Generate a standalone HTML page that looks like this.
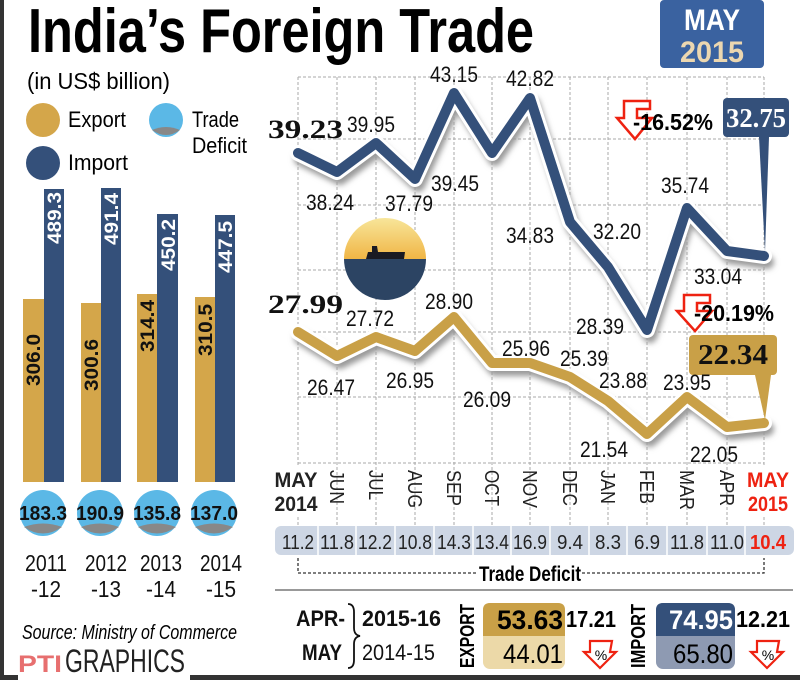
<!DOCTYPE html>
<html><head><meta charset="utf-8"><style>
html,body{margin:0;padding:0;background:#fff;}
svg{display:block;font-family:"Liberation Sans",sans-serif;}
</style></head><body>
<svg width="800" height="680" viewBox="0 0 800 680" xmlns="http://www.w3.org/2000/svg">
<defs>
<filter id="blur" x="-10%" y="-10%" width="120%" height="130%"><feGaussianBlur stdDeviation="3"/></filter>
<linearGradient id="sky" x1="0" y1="0" x2="0" y2="1"><stop offset="0" stop-color="#f8e9a0"/><stop offset="1" stop-color="#f0b443"/></linearGradient>
<clipPath id="shipc"><circle cx="385" cy="259" r="41"/></clipPath>
</defs>
<rect width="800" height="680" fill="#fff"/>
<rect x="0" y="0" width="4" height="680" fill="#333"/>
<rect x="0" y="675" width="18" height="5" fill="#333"/>
<rect x="190" y="675" width="610" height="5" fill="#333"/>

<!-- Title -->
<text x="28" y="52" font-size="62" font-weight="bold" textLength="506" lengthAdjust="spacingAndGlyphs">India’s Foreign Trade</text>
<rect x="660" y="0" width="104" height="68" rx="4" fill="#3a62a0"/>
<text x="712" y="30" font-size="30" font-weight="bold" fill="#fff" text-anchor="middle" textLength="56" lengthAdjust="spacingAndGlyphs">MAY</text>
<text x="712" y="62" font-size="30" font-weight="bold" fill="#ecd7b0" text-anchor="middle" textLength="64" lengthAdjust="spacingAndGlyphs">2015</text>

<!-- left legend -->
<text x="27" y="89" font-size="23" textLength="143" lengthAdjust="spacingAndGlyphs">(in US$ billion)</text>
<circle cx="43" cy="120" r="17" fill="#d4a64a"/>
<text x="68" y="127" font-size="22" textLength="58" lengthAdjust="spacingAndGlyphs">Export</text>
<circle cx="43" cy="163" r="17" fill="#34507a"/>
<text x="68" y="170" font-size="22" textLength="60" lengthAdjust="spacingAndGlyphs">Import</text>
<circle cx="166" cy="120" r="17" fill="#5bb8e6"/>
<path d="M152,130 Q166,124 180,130 Q166,140 152,130Z" fill="#888"/>
<text x="192" y="127" font-size="22" textLength="47" lengthAdjust="spacingAndGlyphs">Trade</text>
<text x="192" y="153" font-size="22" textLength="55" lengthAdjust="spacingAndGlyphs">Deficit</text>

<!-- bars -->
<g>
<rect x="23" y="299" width="21" height="183" fill="#d4a64a"/><rect x="44" y="189" width="20" height="293" fill="#34507a"/>
<rect x="81" y="303" width="20" height="179" fill="#d4a64a"/><rect x="101" y="188" width="20" height="294" fill="#34507a"/>
<rect x="137" y="294" width="20" height="188" fill="#d4a64a"/><rect x="157" y="214" width="21" height="268" fill="#34507a"/>
<rect x="195" y="297" width="20" height="185" fill="#d4a64a"/><rect x="215" y="215" width="20" height="267" fill="#34507a"/>
</g>
<g font-size="19" font-weight="bold">
<text transform="translate(40,360) rotate(-90)" text-anchor="middle" textLength="52" lengthAdjust="spacingAndGlyphs" fill="#111">306.0</text>
<text transform="translate(98,365) rotate(-90)" text-anchor="middle" textLength="52" lengthAdjust="spacingAndGlyphs" fill="#111">300.6</text>
<text transform="translate(154,326) rotate(-90)" text-anchor="middle" textLength="52" lengthAdjust="spacingAndGlyphs" fill="#111">314.4</text>
<text transform="translate(212,330) rotate(-90)" text-anchor="middle" textLength="52" lengthAdjust="spacingAndGlyphs" fill="#111">310.5</text>
<text transform="translate(61,218) rotate(-90)" text-anchor="middle" textLength="52" lengthAdjust="spacingAndGlyphs" fill="#fff">489.3</text>
<text transform="translate(118,219) rotate(-90)" text-anchor="middle" textLength="52" lengthAdjust="spacingAndGlyphs" fill="#fff">491.4</text>
<text transform="translate(175,245) rotate(-90)" text-anchor="middle" textLength="52" lengthAdjust="spacingAndGlyphs" fill="#fff">450.2</text>
<text transform="translate(232,247) rotate(-90)" text-anchor="middle" textLength="52" lengthAdjust="spacingAndGlyphs" fill="#fff">447.5</text>
</g>
<g>
<circle cx="43" cy="513" r="23" fill="#5bb8e6"/><circle cx="100" cy="513" r="23" fill="#5bb8e6"/>
<circle cx="157" cy="513" r="23" fill="#5bb8e6"/><circle cx="214" cy="513" r="23" fill="#5bb8e6"/>
<path d="M24,527 Q43,520 62,527 Q43,540 24,527Z" fill="#888"/><path d="M81,527 Q100,520 119,527 Q100,540 81,527Z" fill="#888"/>
<path d="M138,527 Q157,520 176,527 Q157,540 138,527Z" fill="#888"/><path d="M195,527 Q214,520 233,527 Q214,540 195,527Z" fill="#888"/>
</g>
<g font-size="20" font-weight="bold" text-anchor="middle" fill="#111">
<text x="43" y="520" textLength="48" lengthAdjust="spacingAndGlyphs">183.3</text>
<text x="100" y="520" textLength="48" lengthAdjust="spacingAndGlyphs">190.9</text>
<text x="157" y="520" textLength="48" lengthAdjust="spacingAndGlyphs">135.8</text>
<text x="214" y="520" textLength="48" lengthAdjust="spacingAndGlyphs">137.0</text>
</g>
<g font-size="23" text-anchor="middle" fill="#111">
<text x="46" y="571" textLength="42" lengthAdjust="spacingAndGlyphs">2011</text><text x="46" y="597" textLength="30" lengthAdjust="spacingAndGlyphs">-12</text>
<text x="106" y="571" textLength="42" lengthAdjust="spacingAndGlyphs">2012</text><text x="106" y="597" textLength="30" lengthAdjust="spacingAndGlyphs">-13</text>
<text x="161" y="571" textLength="42" lengthAdjust="spacingAndGlyphs">2013</text><text x="161" y="597" textLength="30" lengthAdjust="spacingAndGlyphs">-14</text>
<text x="221" y="571" textLength="42" lengthAdjust="spacingAndGlyphs">2014</text><text x="221" y="597" textLength="30" lengthAdjust="spacingAndGlyphs">-15</text>
</g>
<text x="22" y="639" font-size="20" font-style="italic" textLength="215" lengthAdjust="spacingAndGlyphs">Source: Ministry of Commerce</text>
<text x="18" y="672" font-size="24" font-weight="bold" fill="#d33" textLength="44" lengthAdjust="spacingAndGlyphs" opacity="0.7">PTI</text>
<text x="65" y="672" font-size="32" fill="#222" textLength="120" lengthAdjust="spacingAndGlyphs">GRAPHICS</text>

<!-- grid -->
<g stroke="#aaa" stroke-width="1" stroke-dasharray="3,2" fill="none">
<path d="M298,77H764M298,139H764M298,205H764M298,270H764M298,332H764M298,397H764M298,463H764"/>
<path d="M298,77V525M337,77V525M376,77V525M415,77V525M454,77V525M492,77V525M530,77V525M570,77V525M608,77V525M647,77V525M687,77V525M727,77V525M764,77V525"/>
</g>

<!-- ship -->
<g clip-path="url(#shipc)">
<rect x="340" y="215" width="90" height="45" fill="url(#sky)"/>
<rect x="340" y="259" width="90" height="45" fill="#2c4463"/>
<path d="M366,259 L368,252 L372,252 L372,246 L377,246 L378,252 L405,252 L404,259Z" fill="#1a1a22"/>
</g>

<!-- lines -->
<g fill="none" stroke-linejoin="round" stroke-linecap="round">
<polyline points="301,159 340,178 379,149 418,185 457,99 495,159 533,104 573,228 611,273 650,336 690,214 730,257 767,262" stroke="#999" stroke-width="14" filter="url(#blur)"/>
<polyline points="298,153 337,172 376,143 415,179 454,93 492,153 530,98 570,222 608,267 647,330 687,208 727,251 764,256" stroke="#fff" stroke-width="16"/>
<polyline points="298,153 337,172 376,143 415,179 454,93 492,153 530,98 570,222 608,267 647,330 687,208 727,251 764,256" stroke="#34507a" stroke-width="10"/>
<polyline points="301,338 340,362 379,343 418,357 457,323 495,369 533,369 573,383 611,407 650,440 690,403 730,433 767,429" stroke="#999" stroke-width="14" filter="url(#blur)"/>
<polyline points="298,332 337,356 376,337 415,351 454,317 492,363 530,363 570,377 608,401 647,434 687,397 727,427 764,423" stroke="#fff" stroke-width="16"/>
<polyline points="298,332 337,356 376,337 415,351 454,317 492,363 530,363 570,377 608,401 647,434 687,397 727,427 764,423" stroke="#c9a047" stroke-width="10"/>
</g>

<!-- callout boxes -->
<path d="M759,137 L769,137 L765,252 Z" fill="#34507a"/>
<rect x="723" y="98" width="66" height="39" rx="4" fill="#34507a"/>
<text x="756" y="127" font-family="Liberation Serif,serif" font-size="27" font-weight="bold" fill="#fff" text-anchor="middle" textLength="60" lengthAdjust="spacingAndGlyphs">32.75</text>
<path d="M755,375 L771,375 L765,420 Z" fill="#c9a047"/>
<rect x="689" y="335" width="88" height="40" rx="4" fill="#c9a047"/>
<text x="733" y="364" font-family="Liberation Serif,serif" font-size="28" font-weight="bold" fill="#111" text-anchor="middle" textLength="70" lengthAdjust="spacingAndGlyphs">22.34</text>

<!-- red arrows -->
<path d="M650,101 H624 V118 H617 L635,139 L652,118 H637 V109 H650 Z" fill="#fff" stroke="#e21" stroke-width="2.5"/>
<text x="633" y="130" font-size="23" font-weight="bold" textLength="80" lengthAdjust="spacingAndGlyphs">-16.52%</text>
<path d="M710,295 H684 V311 H677 L695,331 L712,311 H697 V303 H710 Z" fill="#fff" stroke="#e21" stroke-width="2.5"/>
<text x="694" y="321" font-size="23" font-weight="bold" textLength="80" lengthAdjust="spacingAndGlyphs">-20.19%</text>

<!-- point labels -->
<g font-family="Liberation Serif,serif" font-weight="bold" font-size="26" fill="#111">
<text x="268" y="138" textLength="75" lengthAdjust="spacingAndGlyphs">39.23</text>
<text x="268" y="313" textLength="75" lengthAdjust="spacingAndGlyphs">27.99</text>
</g>
<g font-size="22" fill="#111" text-anchor="middle">
<text x="371" y="132" textLength="48" lengthAdjust="spacingAndGlyphs">39.95</text>
<text x="454" y="82" textLength="48" lengthAdjust="spacingAndGlyphs">43.15</text>
<text x="530" y="86" textLength="48" lengthAdjust="spacingAndGlyphs">42.82</text>
<text x="330" y="210" textLength="48" lengthAdjust="spacingAndGlyphs">38.24</text>
<text x="409" y="211" textLength="48" lengthAdjust="spacingAndGlyphs">37.79</text>
<text x="455" y="191" textLength="48" lengthAdjust="spacingAndGlyphs">39.45</text>
<text x="530" y="243" textLength="48" lengthAdjust="spacingAndGlyphs">34.83</text>
<text x="617" y="239" textLength="48" lengthAdjust="spacingAndGlyphs">32.20</text>
<text x="685" y="193" textLength="48" lengthAdjust="spacingAndGlyphs">35.74</text>
<text x="718" y="284" textLength="48" lengthAdjust="spacingAndGlyphs">33.04</text>
<text x="600" y="334" textLength="48" lengthAdjust="spacingAndGlyphs">28.39</text>
<text x="370" y="326" textLength="48" lengthAdjust="spacingAndGlyphs">27.72</text>
<text x="449" y="309" textLength="48" lengthAdjust="spacingAndGlyphs">28.90</text>
<text x="331" y="395" textLength="48" lengthAdjust="spacingAndGlyphs">26.47</text>
<text x="410" y="388" textLength="48" lengthAdjust="spacingAndGlyphs">26.95</text>
<text x="487" y="407" textLength="48" lengthAdjust="spacingAndGlyphs">26.09</text>
<text x="526" y="356" textLength="48" lengthAdjust="spacingAndGlyphs">25.96</text>
<text x="584" y="366" textLength="48" lengthAdjust="spacingAndGlyphs">25.39</text>
<text x="623" y="388" textLength="48" lengthAdjust="spacingAndGlyphs">23.88</text>
<text x="687" y="390" textLength="48" lengthAdjust="spacingAndGlyphs">23.95</text>
<text x="604" y="457" textLength="48" lengthAdjust="spacingAndGlyphs">21.54</text>
<text x="714" y="462" textLength="48" lengthAdjust="spacingAndGlyphs">22.05</text>
</g>

<!-- month labels -->
<rect x="272" y="466" width="52" height="50" fill="#fff"/>
<rect x="746" y="466" width="50" height="50" fill="#fff"/>
<g font-size="21" font-weight="bold" fill="#222">
<text x="296" y="487" text-anchor="middle" textLength="43" lengthAdjust="spacingAndGlyphs">MAY</text>
<text x="296" y="511" text-anchor="middle" textLength="43" lengthAdjust="spacingAndGlyphs">2014</text>
<text x="768" y="487" text-anchor="middle" textLength="42" lengthAdjust="spacingAndGlyphs" fill="#e21">MAY</text>
<text x="768" y="511" text-anchor="middle" textLength="40" lengthAdjust="spacingAndGlyphs" fill="#e21">2015</text>
</g>
<g font-size="20" fill="#222">
<text transform="translate(330,470) rotate(90)" textLength="34" lengthAdjust="spacingAndGlyphs">JUN</text>
<text transform="translate(369,470) rotate(90)" textLength="30" lengthAdjust="spacingAndGlyphs">JUL</text>
<text transform="translate(408,470) rotate(90)" textLength="38" lengthAdjust="spacingAndGlyphs">AUG</text>
<text transform="translate(447,470) rotate(90)" textLength="36" lengthAdjust="spacingAndGlyphs">SEP</text>
<text transform="translate(485,470) rotate(90)" textLength="36" lengthAdjust="spacingAndGlyphs">OCT</text>
<text transform="translate(523,470) rotate(90)" textLength="38" lengthAdjust="spacingAndGlyphs">NOV</text>
<text transform="translate(563,470) rotate(90)" textLength="36" lengthAdjust="spacingAndGlyphs">DEC</text>
<text transform="translate(601,470) rotate(90)" textLength="34" lengthAdjust="spacingAndGlyphs">JAN</text>
<text transform="translate(640,470) rotate(90)" textLength="34" lengthAdjust="spacingAndGlyphs">FEB</text>
<text transform="translate(680,470) rotate(90)" textLength="40" lengthAdjust="spacingAndGlyphs">MAR</text>
<text transform="translate(720,470) rotate(90)" textLength="36" lengthAdjust="spacingAndGlyphs">APR</text>
</g>

<!-- deficit bar -->
<rect x="275" y="526" width="519" height="29" rx="6" fill="#cdd6e4"/>
<g stroke="#fff" stroke-width="1.5"><path d="M318,526V555M356,526V555M395,526V555M434,526V555M473,526V555M511,526V555M550,526V555M589,526V555M627,526V555M667,526V555M707,526V555M745,526V555"/></g>
<g font-size="20" text-anchor="middle" fill="#222">
<text x="298" y="549" textLength="32" lengthAdjust="spacingAndGlyphs">11.2</text>
<text x="337" y="549" textLength="34" lengthAdjust="spacingAndGlyphs">11.8</text>
<text x="375" y="549" textLength="34" lengthAdjust="spacingAndGlyphs">12.2</text>
<text x="415" y="549" textLength="34" lengthAdjust="spacingAndGlyphs">10.8</text>
<text x="454" y="549" textLength="34" lengthAdjust="spacingAndGlyphs">14.3</text>
<text x="492" y="549" textLength="34" lengthAdjust="spacingAndGlyphs">13.4</text>
<text x="530" y="549" textLength="34" lengthAdjust="spacingAndGlyphs">16.9</text>
<text x="570" y="549" textLength="26" lengthAdjust="spacingAndGlyphs">9.4</text>
<text x="608" y="549" textLength="26" lengthAdjust="spacingAndGlyphs">8.3</text>
<text x="647" y="549" textLength="26" lengthAdjust="spacingAndGlyphs">6.9</text>
<text x="687" y="549" textLength="34" lengthAdjust="spacingAndGlyphs">11.8</text>
<text x="727" y="549" textLength="34" lengthAdjust="spacingAndGlyphs">11.0</text>
<text x="768" y="549" textLength="36" lengthAdjust="spacingAndGlyphs" fill="#e21" font-weight="bold">10.4</text>
</g>
<path d="M298,558V573H477M582,573H764V558" fill="none" stroke="#333" stroke-width="1.3" stroke-dasharray="3,2"/>
<text x="530" y="581" font-size="21" font-weight="bold" text-anchor="middle" textLength="102" lengthAdjust="spacingAndGlyphs">Trade Deficit</text>
<line x1="275" y1="590" x2="793" y2="590" stroke="#333" stroke-width="1"/>

<!-- bottom summary -->
<g font-size="22" fill="#111">
<text x="296" y="626" font-weight="bold" textLength="49" lengthAdjust="spacingAndGlyphs">APR-</text>
<text x="302" y="660" font-weight="bold" textLength="40" lengthAdjust="spacingAndGlyphs">MAY</text>
<text x="362" y="626" font-weight="bold" textLength="79" lengthAdjust="spacingAndGlyphs">2015-16</text>
<text x="362" y="660" textLength="73" lengthAdjust="spacingAndGlyphs">2014-15</text>
</g>
<path d="M348,604 Q354,604 354,612 L354,628 Q354,635 360,636 Q354,637 354,644 L354,660 Q354,668 348,668" fill="none" stroke="#111" stroke-width="1.8"/>
<text transform="translate(474,668) rotate(-90)" font-size="20" font-weight="bold" textLength="64" lengthAdjust="spacingAndGlyphs">EXPORT</text>
<rect x="483" y="603" width="82" height="66" rx="7" fill="#ecd9a8"/>
<path d="M490,603 H558 Q565,603 565,610 V636 H483 V610 Q483,603 490,603Z" fill="#c9a047"/>
<text x="563" y="629" font-size="27" font-weight="bold" text-anchor="end" textLength="66" lengthAdjust="spacingAndGlyphs">53.63</text>
<text x="563" y="663" font-size="27" text-anchor="end" textLength="60" lengthAdjust="spacingAndGlyphs">44.01</text>
<text x="566" y="627" font-size="23" font-weight="bold" textLength="50" lengthAdjust="spacingAndGlyphs">17.21</text>
<path d="M612,641 H590 V652 H584 L600,668 L616,652 H610 Z" fill="#fff" stroke="#e21" stroke-width="2.2"/>
<text x="601" y="660" font-size="14" text-anchor="middle">%</text>
<text transform="translate(645,668) rotate(-90)" font-size="20" font-weight="bold" textLength="64" lengthAdjust="spacingAndGlyphs">IMPORT</text>
<rect x="656" y="603" width="79" height="66" rx="7" fill="#8e9ab2"/>
<path d="M663,603 H728 Q735,603 735,610 V636 H656 V610 Q656,603 663,603Z" fill="#34507a"/>
<text x="733" y="629" font-size="27" font-weight="bold" fill="#fff" text-anchor="end" textLength="64" lengthAdjust="spacingAndGlyphs">74.95</text>
<text x="733" y="663" font-size="27" text-anchor="end" textLength="60" lengthAdjust="spacingAndGlyphs">65.80</text>
<text x="736" y="627" font-size="23" font-weight="bold" textLength="54" lengthAdjust="spacingAndGlyphs">12.21</text>
<path d="M779,641 H757 V652 H751 L767,668 L783,652 H777 Z" fill="#fff" stroke="#e21" stroke-width="2.2"/>
<text x="768" y="660" font-size="14" text-anchor="middle">%</text>
</svg>
</body></html>
